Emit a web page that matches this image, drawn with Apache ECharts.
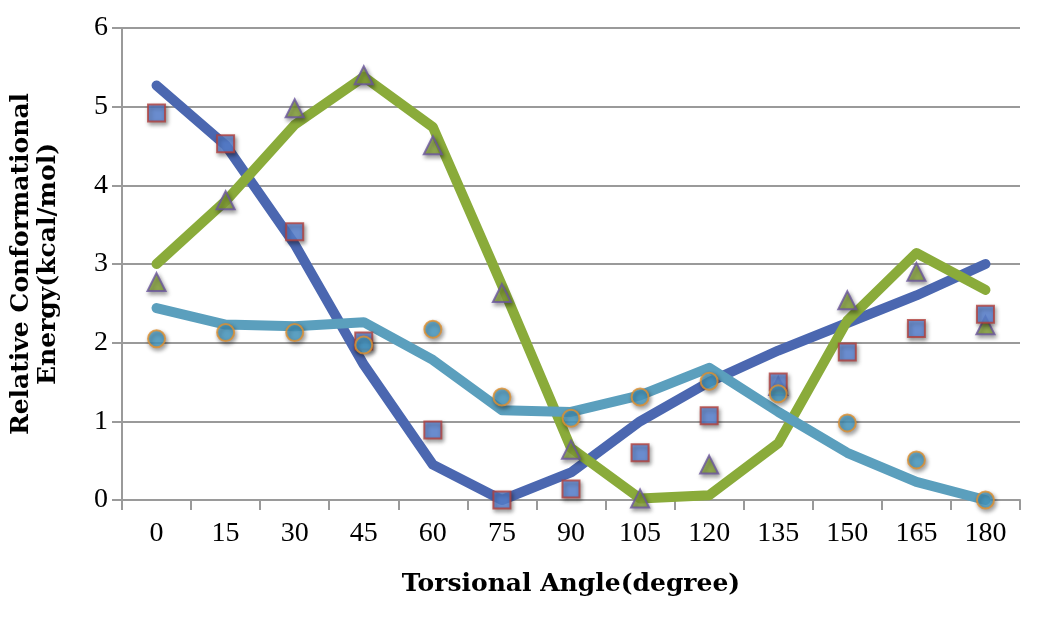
<!DOCTYPE html>
<html>
<head>
<meta charset="utf-8">
<script src="https://cdn.jsdelivr.net/npm/echarts@6/dist/echarts.min.js"></script>
<style>html,body{margin:0;padding:0;background:#fff}#c{width:1050px;height:633px}</style>
</head>
<body>
<div id="c"></div>
<script>
const categories = ['0','15','30','45','60','75','90','105','120','135','150','165','180'];
const blueLine  = [5.27,4.51,3.25,1.72,0.45,0.00,0.35,1.00,1.50,1.90,2.25,2.60,3.00];
const greenLine = [3.00,3.80,4.77,5.38,4.74,2.73,0.66,0.02,0.06,0.72,2.28,3.14,2.67];
const tealLine  = [2.44,2.23,2.21,2.26,1.78,1.14,1.12,1.33,1.68,1.12,0.60,0.23,0.00];
const squares   = [4.92,4.53,3.41,2.02,0.89,0.00,0.14,0.60,1.07,1.50,1.88,2.18,2.36];
const triangles = [2.77,3.81,4.98,5.40,4.51,2.63,0.64,0.02,0.45,1.45,2.54,2.90,2.22];
const circles   = [2.05,2.13,2.13,1.97,2.17,1.31,1.04,1.31,1.51,1.35,0.98,0.51,0.00];
const yTicks = [0,1,2,3,4,5,6];

const shadow = {shadowColor:'rgba(0,0,0,0.45)', shadowBlur:4, shadowOffsetX:1.5, shadowOffsetY:2.5};
function lineS(data,color){
  return {type:'line', data, symbol:'none', z:2,
    lineStyle:{color, width:10, cap:'round', join:'round'}};
}
function scat(data,symbol,fill,border,size,z){
  return {type:'scatter', data, symbol, symbolSize:size, z,
    itemStyle:Object.assign({color:fill, borderColor:border, borderWidth:2}, shadow)};
}
const chart = echarts.init(document.getElementById('c'));
chart.setOption({
  animation:false,
  backgroundColor:'#fff',
  grid:{left:120, right:30, top:28, bottom:133},
  xAxis:{
    type:'category', data:categories, boundaryGap:true,
    name:'Torsional Angle(degree)', nameLocation:'middle', nameGap:72,
    nameTextStyle:{fontFamily:'DejaVu Serif', fontWeight:'bold', fontSize:25, color:'#000'},
    axisLine:{lineStyle:{color:'#9a9a9a', width:2}},
    axisTick:{show:true, length:10, lineStyle:{color:'#9a9a9a', width:2}},
    axisLabel:{fontFamily:'Liberation Serif', fontSize:28, color:'#000', margin:20}
  },
  yAxis:{
    type:'value', min:yTicks[0], max:yTicks[yTicks.length-1], interval:1,
    name:'Relative Conformational\nEnergy(kcal/mol)', nameLocation:'middle', nameGap:60, nameRotate:90,
    nameTextStyle:{fontFamily:'DejaVu Serif', fontWeight:'bold', fontSize:25, color:'#000', lineHeight:27},
    axisLine:{show:true, lineStyle:{color:'#9a9a9a', width:2}},
    axisTick:{show:true, length:10, lineStyle:{color:'#9a9a9a', width:2}},
    axisLabel:{fontFamily:'Liberation Serif', fontSize:28, color:'#000', margin:14},
    splitLine:{lineStyle:{color:'#9a9a9a', width:2}}
  },
  series:[
    lineS(blueLine,'#4b67b0'),
    lineS(greenLine,'#8aab3a'),
    lineS(tealLine,'#5b9fbd'),
    scat(triangles,'triangle','#8aa83a','#6a559e',18,5),
    scat(squares,'rect','#5b86d8','#b0403c',17,6),
    scat(circles,'circle','#4a9fc8','#e0902e',17,7)
  ]
});
</script>
</body>
</html>
